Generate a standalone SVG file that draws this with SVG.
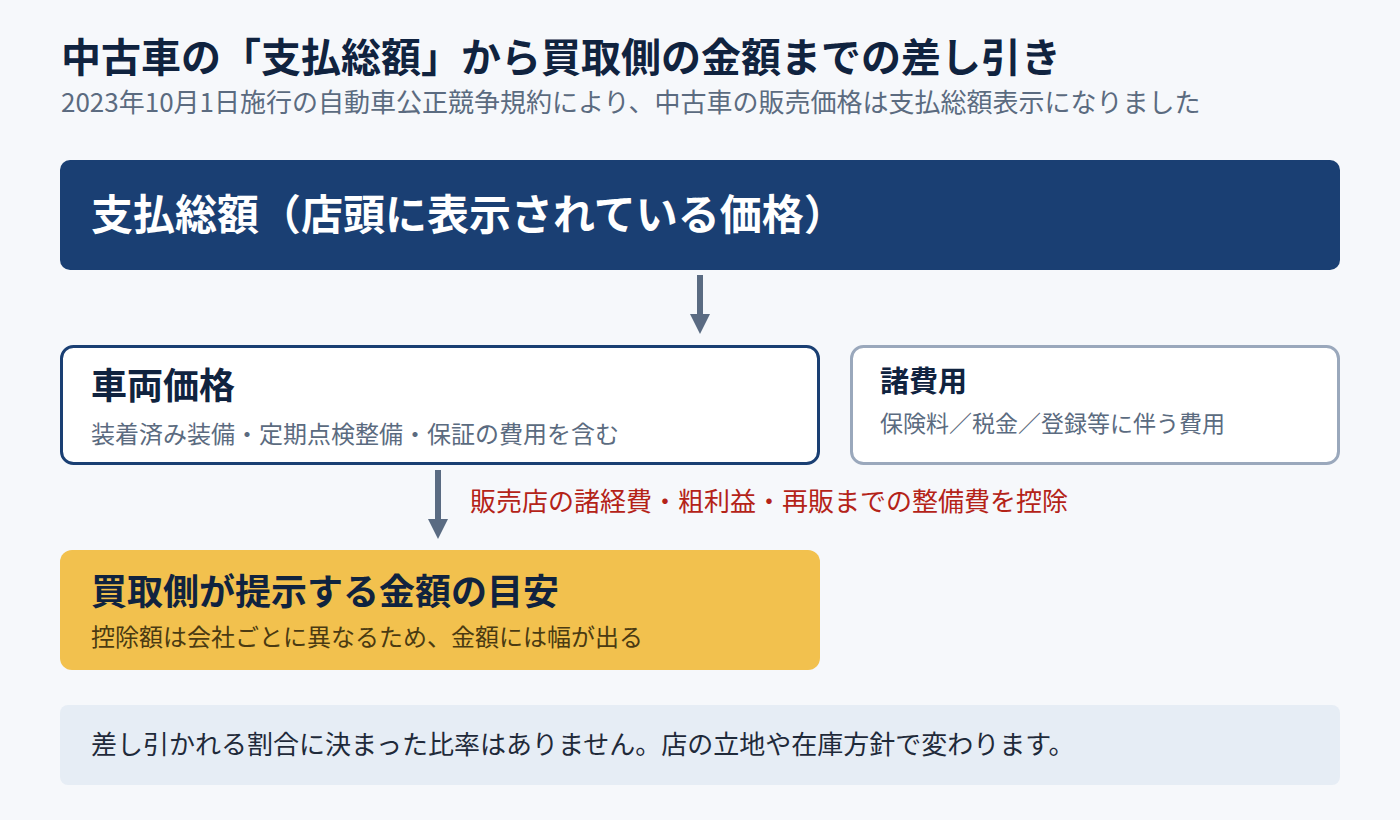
<svg xmlns="http://www.w3.org/2000/svg" width="1400" height="820" viewBox="0 0 1400 820">
<defs>
<style>
text{font-family:"Noto Sans CJK JP","Noto Sans CJK SC",sans-serif;}
.title{font-size:40px;font-weight:700;fill:#10233f;}
.sub{font-size:26px;fill:#5b6b80;}
.h{font-weight:700;fill:#10233f;}
.desc{fill:#5b6b80;}
.arrow{stroke:#5a6b82;stroke-width:6;fill:none;}
</style>
</defs>
<rect width="1400" height="820" fill="#f6f8fb"/>
<g id="header">
<text x="61" y="72" class="title">中古車の「支払総額」から買取側の金額までの差し引き</text>
<text x="61" y="112" class="sub">2023年10月1日施行の自動車公正競争規約により、中古車の販売価格は支払総額表示になりました</text>
</g>
<g id="total">
<rect x="60" y="160" width="1280" height="110" rx="10" fill="#1a3f73"/>
<text x="91" y="230" font-size="42" font-weight="700" fill="#ffffff">支払総額（店頭に表示されている価格）</text>
</g>
<g id="connectors">
<line x1="700" y1="275" x2="700" y2="316" class="arrow"/>
<path d="M690 314 L710 314 L700 334 Z" fill="#5a6b82"/>
<line x1="438" y1="470" x2="438" y2="521" class="arrow"/>
<path d="M428 519 L448 519 L438 539 Z" fill="#5a6b82"/>
<text x="470" y="511" font-size="26" fill="#b42318">販売店の諸経費・粗利益・再販までの整備費を控除</text>
</g>
<g id="vehicle">
<rect x="61.5" y="346.5" width="757" height="117" rx="12" fill="#ffffff" stroke="#1a3f73" stroke-width="3"/>
<text x="91" y="399" font-size="36" class="h">車両価格</text>
<text x="91" y="443" font-size="24" class="desc">装着済み装備・定期点検整備・保証の費用を含む</text>
</g>
<g id="fees">
<rect x="851.5" y="346.5" width="487" height="117" rx="12" fill="#ffffff" stroke="#9aa8bc" stroke-width="3"/>
<text x="880" y="392" font-size="29" class="h">諸費用</text>
<text x="880" y="432" font-size="23" class="desc">保険料／税金／登録等に伴う費用</text>
</g>
<g id="buyer">
<rect x="60" y="550" width="760" height="120" rx="12" fill="#f2c14e"/>
<text x="91" y="605" font-size="36" class="h">買取側が提示する金額の目安</text>
<text x="91" y="646" font-size="24" fill="#4a3a12">控除額は会社ごとに異なるため、金額には幅が出る</text>
</g>
<g id="note">
<rect x="60" y="705" width="1280" height="80" rx="8" fill="#e6edf5"/>
<text x="91" y="754" font-size="26" fill="#1f2a3a">差し引かれる割合に決まった比率はありません。店の立地や在庫方針で変わります。</text>
</g>
</svg>
